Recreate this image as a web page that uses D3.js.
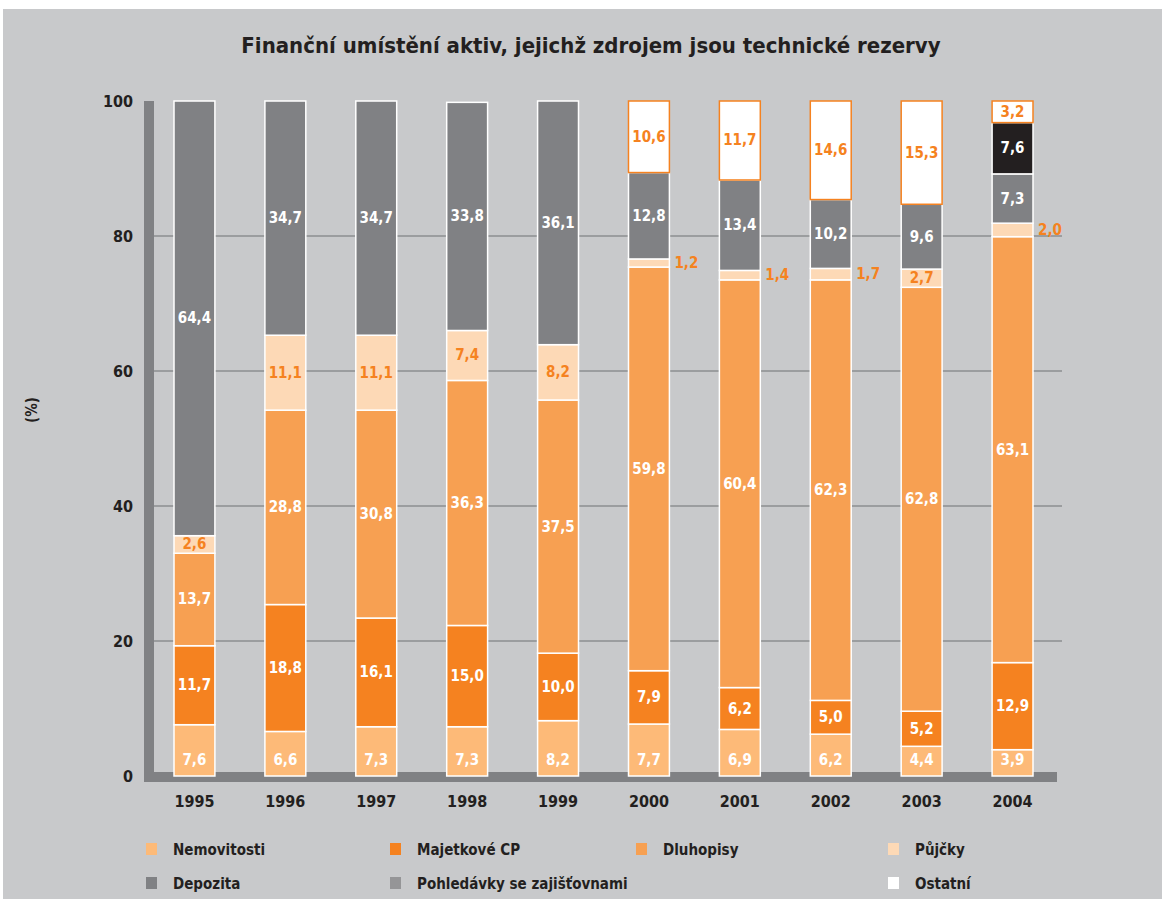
<!DOCTYPE html>
<html>
<head>
<meta charset="utf-8">
<script src="https://cdn.jsdelivr.net/npm/d3@7"></script>
<style>
  body { margin: 0; background: #fff; }
  text { font-family: "DejaVu Sans Condensed", "DejaVu Sans", sans-serif; }
</style>
</head>
<body>
<div id="chart"></div>
<script>
var years = ["1995", "1996", "1997", "1998", "1999", "2000", "2001", "2002", "2003", "2004"];
var nemovitosti = [7.6, 6.6, 7.3, 7.3, 8.2, 7.7, 6.9, 6.2, 4.4, 3.9];
var majetkoveCP = [11.7, 18.8, 16.1, 15.0, 10.0, 7.9, 6.2, 5.0, 5.2, 12.9];
var dluhopisy = [13.7, 28.8, 30.8, 36.3, 37.5, 59.8, 60.4, 62.3, 62.8, 63.1];
var pujcky = [2.6, 11.1, 11.1, 7.4, 8.2, 1.2, 1.4, 1.7, 2.7, 2.0];
var depozita = [64.4, 34.7, 34.7, 33.8, 36.1, 12.8, 13.4, 10.2, 9.6, 7.3];
var pohledavky = [0, 0, 0, 0, 0, 0, 0, 0, 0, 7.6];
var ostatni = [0, 0, 0, 0, 0, 10.6, 11.7, 14.6, 15.3, 3.2];
var yTicks = [0, 20, 40, 60, 80, 100];

var series = [
  { name: "Nemovitosti", values: nemovitosti, fill: "#fdba78", legend: "#fdba78", label: "#fff" },
  { name: "Majetkové CP", values: majetkoveCP, fill: "#f58220", legend: "#f58220", label: "#fff" },
  { name: "Dluhopisy", values: dluhopisy, fill: "#f7a052", legend: "#f7a052", label: "#fff" },
  { name: "Půjčky", values: pujcky, fill: "#fdd9b6", legend: "#fdd9b6", label: "#f58220" },
  { name: "Depozita", values: depozita, fill: "#808184", legend: "#808184", label: "#fff" },
  { name: "Pohledávky se zajišťovnami", values: pohledavky, fill: "#231f20", legend: "#959597", label: "#fff" },
  { name: "Ostatní", values: ostatni, fill: "#ffffff", legend: "#ffffff", label: "#f58220" }
];

var width = 1162, height = 899,
  orange = "#f58220",
  axisGray = "#808184",
  gridGray = "#8d8e90";

var svg = d3.select("#chart").append("svg")
  .attr("width", width).attr("height", height);

// background panel
svg.append("rect").attr("x", 3).attr("y", 9)
  .attr("width", width - 3).attr("height", height - 9)
  .style("fill", "#c8c9cb");

svg.append("text")
  .attr("x", 591).attr("y", 53)
  .attr("text-anchor", "middle")
  .style("font-size", "22px").style("font-weight", "bold")
  .style("fill", "#231f20")
  .text("Finanční umístění aktiv, jejichž zdrojem jsou technické rezervy");

var x = d3.scaleBand().domain(years).range([149, 1058]).paddingInner(0.55).paddingOuter(0.275);
var y = d3.scaleLinear().domain([0, 100]).range([776, 101]);

// gridlines
svg.selectAll("line.grid")
  .data(yTicks.filter(function (d) { return d > 0 && d < 100; }))
  .enter().append("line")
  .attr("x1", 154).attr("x2", 1062)
  .attr("y1", function (d) { return y(d); })
  .attr("y2", function (d) { return y(d); })
  .style("stroke", gridGray).style("stroke-width", 1.5);

// y tick labels
svg.selectAll("text.ytick")
  .data(yTicks)
  .enter().append("text")
  .attr("x", 133)
  .attr("y", function (d) { return y(d) + 6; })
  .attr("text-anchor", "end")
  .style("font-size", "16px").style("font-weight", "bold")
  .style("fill", "#231f20")
  .text(function (d) { return d; });

svg.append("text")
  .attr("transform", "translate(37,410) rotate(-90)")
  .attr("text-anchor", "middle")
  .style("font-size", "15px").style("font-weight", "bold")
  .style("fill", "#231f20")
  .text("(%)");

// thick axis bars
svg.append("rect").attr("x", 144).attr("y", y(100)).attr("width", 10).attr("height", 782 - y(100))
  .style("fill", axisGray);
svg.append("rect").attr("x", 144).attr("y", 772).attr("width", 1057 - 144).attr("height", 10)
  .style("fill", axisGray);

// stacked segments
var stackData = years.map(function (yr, i) {
  var row = { year: yr };
  series.forEach(function (s) { row[s.name] = s.values[i]; });
  return row;
});
var stack = d3.stack().keys(series.map(function (s) { return s.name; }));
var layers = stack(stackData);

layers.forEach(function (layer, li) {
  var s = series[li];
  var g = svg.append("g");
  var segs = layer.filter(function (d) { return d[1] - d[0] > 0; });
  g.selectAll("rect")
    .data(segs)
    .enter().append("rect")
    .attr("x", function (d) { return x(d.data.year); })
    .attr("y", function (d) { return y(d[1]); })
    .attr("width", x.bandwidth())
    .attr("height", function (d) { return y(d[0]) - y(d[1]); })
    .style("fill", s.fill)
    .style("stroke", s.name == "Ostatní" ? orange : "#fff")
    .style("stroke-width", 1.5);

  g.selectAll("text")
    .data(segs)
    .enter().append("text")
    .attr("x", function (d) {
      var v = d[1] - d[0];
      return v < 2.5 ? x(d.data.year) + x.bandwidth() + 5 : x(d.data.year) + x.bandwidth() / 2;
    })
    .attr("y", function (d) {
      var cy = y((d[0] + d[1]) / 2) + 5;
      if (li == 0) cy = y(d[0]) - 11;
      return cy;
    })
    .attr("text-anchor", function (d) { return d[1] - d[0] < 2.5 ? "start" : "middle"; })
    .style("font-size", "15px").style("font-weight", "bold")
    .style("fill", s.label)
    .text(function (d) { return d3.format(".1f")(d[1] - d[0]).replace(".", ","); });
});

// x labels
svg.selectAll("text.xtick")
  .data(years)
  .enter().append("text")
  .attr("x", function (d) { return x(d) + x.bandwidth() / 2; })
  .attr("y", 807)
  .attr("text-anchor", "middle")
  .style("font-size", "16px").style("font-weight", "bold")
  .style("fill", "#231f20")
  .text(function (d) { return d; });

// legend
var legendPos = [[146, 849], [390, 849], [636, 849], [888, 849], [146, 883], [390, 883], [888, 883]];
var lg = svg.selectAll("g.legend")
  .data(series)
  .enter().append("g")
  .attr("transform", function (d, i) { return "translate(" + legendPos[i][0] + "," + legendPos[i][1] + ")"; });
lg.append("rect").attr("x", 0).attr("y", -6).attr("width", 11).attr("height", 12)
  .style("fill", function (d) { return d.legend; });
lg.append("text").attr("x", 27).attr("y", 6)
  .style("font-size", "15px").style("font-weight", "bold")
  .style("fill", "#231f20")
  .text(function (d) { return d.name; });
</script>
</body>
</html>
